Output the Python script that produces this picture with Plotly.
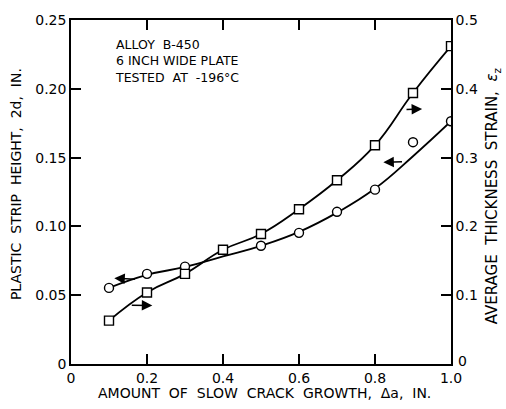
import plotly.graph_objects as go

# ---- data ----
crack_growth = [0.1, 0.2, 0.3, 0.4, 0.5, 0.6, 0.7, 0.8, 0.9, 1.0]

# plastic strip height 2d (left axis, circles)
circle_x = [0.1, 0.2, 0.3, 0.5, 0.6, 0.7, 0.8, 0.9, 1.0]
circle_y = [0.0553, 0.0655, 0.0708, 0.0859, 0.0953, 0.1106, 0.1267, 0.1612, 0.1764]
# faired curve through the circle data
circle_curve_y = [0.0553, 0.0648, 0.0705, 0.0782, 0.0859, 0.0960, 0.1100, 0.1275, 0.1510, 0.1764]

# average thickness strain (right axis, squares)
square_x = [0.1, 0.2, 0.3, 0.4, 0.5, 0.6, 0.7, 0.8, 0.9, 1.0]
square_y = [0.063, 0.104, 0.131, 0.166, 0.189, 0.225, 0.267, 0.318, 0.394, 0.462]

x_ticks = [0, 0.2, 0.4, 0.6, 0.8, 1.0]
x_ticktext = ["0", "0.2", "0.4", "0.6", "0.8", "1.0"]
yl_ticks = [0, 0.05, 0.10, 0.15, 0.20, 0.25]
yl_ticktext = ["0", "0.05", "0.10", "0.15", "0.20", "0.25"]
yr_ticks = [0.1, 0.2, 0.3, 0.4, 0.5]
yr_ticktext = ["0.1", "0.2", "0.3", "0.4", "0.5"]
yr_zero_label = "0"

note_lines = ["ALLOY  B-450", "6 INCH WIDE PLATE", "TESTED  AT  -196°C"]

FONT = "DejaVu Sans"
INK = "black"

fig = go.Figure()

# curves
fig.add_trace(go.Scatter(x=crack_growth, y=circle_curve_y, mode="lines",
                         line=dict(color=INK, width=1.8, shape="spline", smoothing=1.3),
                         hoverinfo="skip"))
fig.add_trace(go.Scatter(x=square_x, y=square_y, mode="lines", yaxis="y2",
                         line=dict(color=INK, width=1.8, shape="spline", smoothing=1.3),
                         hoverinfo="skip"))
# markers
fig.add_trace(go.Scatter(x=circle_x, y=circle_y, mode="markers",
                         marker=dict(symbol="circle", size=9, color="white",
                                     line=dict(color=INK, width=1.4))))
fig.add_trace(go.Scatter(x=square_x, y=square_y, mode="markers", yaxis="y2",
                         marker=dict(symbol="square", size=9, color="white",
                                     line=dict(color=INK, width=1.4))))

axis_common = dict(showgrid=False, zeroline=False, showline=True, linecolor=INK,
                   linewidth=1.6, ticks="inside", ticklen=10, tickwidth=1.5,
                   tickcolor=INK, tickfont=dict(family=FONT, size=14, color=INK))

fig.update_layout(
    width=506, height=409,
    margin=dict(l=71, r=55, t=17, b=45),
    paper_bgcolor="white", plot_bgcolor="white",
    showlegend=False,
    font=dict(family=FONT, color=INK),
    xaxis=dict(range=[0, 1], tickvals=x_ticks, ticktext=x_ticktext, mirror="ticks",
               **axis_common),
    yaxis=dict(range=[0, 0.25], tickvals=yl_ticks, ticktext=yl_ticktext, **axis_common),
    yaxis2=dict(range=[0, 0.5], tickvals=yr_ticks, ticktext=yr_ticktext,
                overlaying="y", side="right", **axis_common),
)

annots = []
# right-axis zero label, sitting just above/right of the x-axis "1.0"
annots.append(dict(text=yr_zero_label, xref="paper", yref="y2", x=1.0, y=0,
                   xanchor="left", yanchor="middle", xshift=5, yshift=3, showarrow=False,
                   font=dict(family=FONT, size=14, color=INK)))
# axis titles
annots.append(dict(text="AMOUNT  OF  SLOW  CRACK  GROWTH,  Δa,  IN.", xref="paper", yref="paper",
                   x=0.508, y=-0.083, xanchor="center", yanchor="middle", showarrow=False,
                   font=dict(family=FONT, size=14, color=INK)))
annots.append(dict(text="PLASTIC  STRIP  HEIGHT,  2d,  IN.", xref="paper", yref="paper",
                   x=-0.143, y=0.522, xanchor="center", yanchor="middle", showarrow=False,
                   textangle=-90, font=dict(family=FONT, size=14, color=INK)))
annots.append(dict(text="AVERAGE  THICKNESS  STRAIN,  <i>ε</i><sub>z</sub>", xref="paper", yref="paper",
                   x=1.11, y=0.49, xanchor="center", yanchor="middle", showarrow=False,
                   textangle=-90, font=dict(family=FONT, size=15, color=INK)))
# note
annots.append(dict(text="<br>".join(note_lines), xref="x", yref="y", x=0.11, y=0.239,
                   xanchor="left", yanchor="top", align="left", showarrow=False,
                   font=dict(family=FONT, size=12.5, color=INK)))

# arrows indicating which axis applies
arrow_style = dict(showarrow=True, arrowhead=2, arrowsize=1.4, arrowwidth=1.5,
                   arrowcolor=INK, text="")
annots.append(dict(x=0.114, y=0.0624, ax=0.172, ay=0.0615, xref="x", yref="y",
                   axref="x", ayref="y", **arrow_style))
annots.append(dict(x=0.822, y=0.1466, ax=0.875, ay=0.147, xref="x", yref="y",
                   axref="x", ayref="y", **arrow_style))
annots.append(dict(x=0.214, y=0.0851, ax=0.156, ay=0.0855, xref="x", yref="y2",
                   axref="x", ayref="y2", **arrow_style))
annots.append(dict(x=0.924, y=0.3707, ax=0.879, ay=0.370, xref="x", yref="y2",
                   axref="x", ayref="y2", **arrow_style))
fig.update_layout(annotations=annots)

fig.write_html("out.html")
